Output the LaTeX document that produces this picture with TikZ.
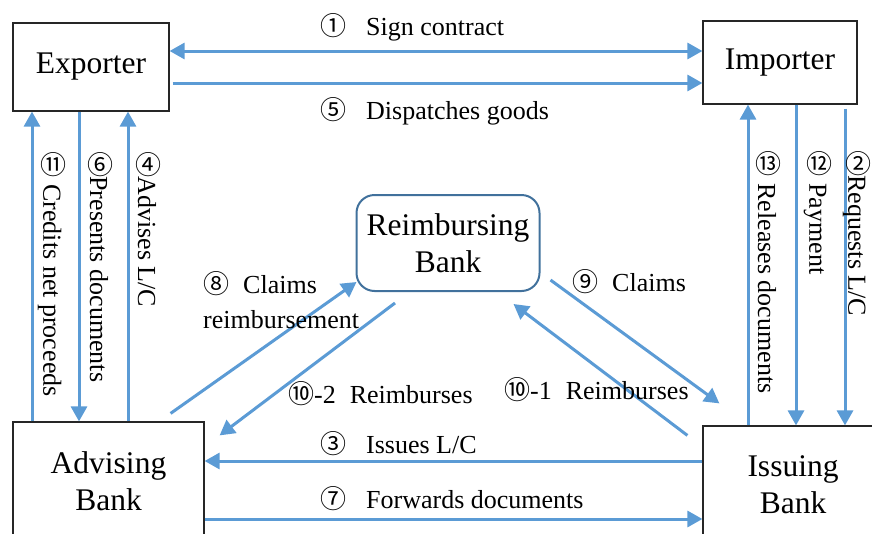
\documentclass[tikz,border=0pt]{standalone}
\usepackage{fontspec}
\setmainfont{Liberation Serif}
\newfontfamily\cjk{Noto Sans CJK SC}
\usepackage{tikz}
\usetikzlibrary{arrows.meta,calc}
\definecolor{flowblue}{HTML}{5B9BD5}
\definecolor{rbblue}{HTML}{41719C}
\newcommand{\cn}[1]{{\cjk #1}}
\newcommand{\vcn}[1]{\rotatebox[origin=c]{90}{\cjk #1}}
\tikzset{
  party/.style={draw=black!85,line width=1.2pt,inner sep=0pt,align=center,
    font=\fontsize{31.5}{37}\selectfont},
  flow/.style={draw=flowblue,line width=3pt,->},
  lab/.style={anchor=west,inner sep=0pt,font=\fontsize{26}{35}\selectfont},
  vlab/.style={lab,rotate=-90},
  >={Triangle[length=15pt,width=16pt]},
}

\begin{document}
\begin{tikzpicture}[x=1pt,y=-1pt]
  \useasboundingbox (0,0) rectangle (872,533);
  % parties
  \node[party,minimum width=156pt,minimum height=88pt] (exp) at (91,67) {Exporter};
  \node[party,minimum width=154pt,minimum height=83pt] (imp) at (780,62.5) {Importer};
  \node[party,minimum width=191pt,minimum height=118pt] (adv) at (108.5,481) {Advising\\Bank};
  \node[party,minimum width=180pt,minimum height=118pt] (iss) at (793,485) {Issuing\\Bank};
  \node[party,draw=rbblue,line width=2pt,rounded corners=18pt,minimum width=183pt,
    minimum height=96pt] (rb) at (448,243) {Reimbursing\\Bank};
  % columns and rows of the straight flows
  \foreach \n/\x in {c11/32,c6/79,c4/128,c13/748,c12/796,c2/845}
    \coordinate (\n) at (\x,0);
  \foreach \n/\y in {r1/51,r5/83,r3/461,r7/519}
    \coordinate (\n) at (0,\y);
  \draw[flow,<->] (exp.east |- r1) -- (imp.west |- r1);
  \draw[flow,shorten <=3pt] (exp.east |- r5) -- (imp.west |- r5);
  \draw[flow] (iss.west |- r3) -- (adv.east |- r3);
  \draw[flow] (adv.east |- r7) -- (iss.west |- r7);
  \draw[flow] (adv.north -| c11) -- (exp.south -| c11);
  \draw[flow] (exp.south -| c6) -- (adv.north -| c6);
  \draw[flow] (adv.north -| c4) -- (exp.south -| c4);
  \draw[flow] (iss.north -| c13) -- (imp.south -| c13);
  \draw[flow] (imp.south -| c12) -- (iss.north -| c12);
  \draw[flow,shorten <=4pt] (imp.south -| c2) -- (iss.north -| c2);
  % reimbursement flows
  \draw[flow] ($(adv.north east)+(-34,-8)$) -- ($(rb.south west)+(1,-10)$);
  \draw[flow] ($(rb.south)+(-53,11)$) -- ($(adv.north east)+(15,14)$);
  \draw[flow] ($(rb.south east)+(10,-12)$) -- ($(iss.north west)+(17,-22)$);
  \draw[flow] ($(iss.north west)+(-15,10)$) -- ($(rb.south east)+(-27,12)$);
  % labels
  \node[lab] (l1) at (320,27) {\cn{①}\hspace{20pt}Sign contract};
  \node[lab] (l5) at (320,111) {\cn{⑤}\hspace{20pt}Dispatches goods};
  \node[lab] (l3) at (320,444) {\cn{③}\hspace{20pt}Issues L/C};
  \node[lab] (l7) at (320,499) {\cn{⑦}\hspace{20pt}Forwards documents};
  \node[lab] (l102) at (288,394) {\cn{⑩}-2\hspace{14pt}Reimburses};
  \node[lab] (l101) at (504,390) {\cn{⑩}-1\hspace{14pt}Reimburses};
  \node[lab,align=left] (l8) at (203,300) {\cn{⑧}\hspace{14pt}Claims\\reimbursement};
  \node[lab] (l9) at (572,282) {\cn{⑨}\hspace{14pt}Claims};
  \node[vlab] (l11) at (52,152) {\vcn{⑪}\hspace{8pt}Credits net proceeds};
  \node[vlab] (l6) at (100,152) {\vcn{⑥}Presents documents};
  \node[vlab] (l4) at (148,152) {\vcn{④}Advises L/C};
  \node[vlab] (l13) at (768,151) {\vcn{⑬}\hspace{8pt}Releases documents};
  \node[vlab] (l12) at (818,151) {\vcn{⑫}\hspace{8pt}Payment};
  \node[vlab] (l2) at (857,151) {\vcn{②}Requests L/C};
\end{tikzpicture}
\end{document}
